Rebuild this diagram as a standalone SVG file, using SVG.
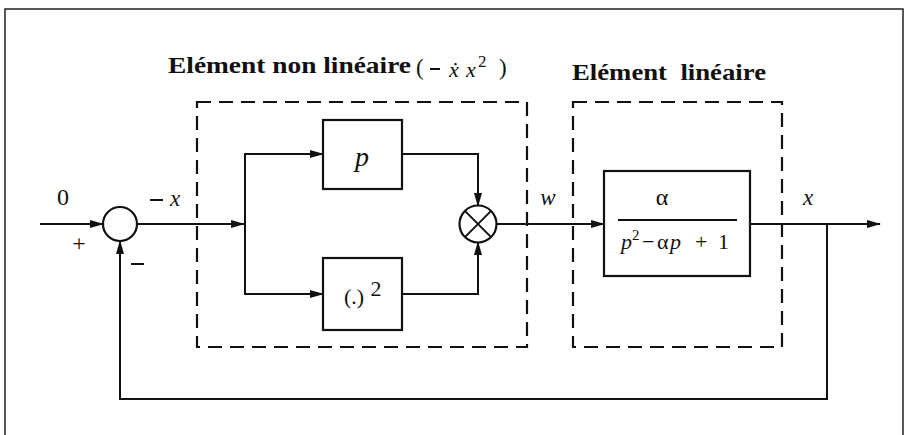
<svg xmlns="http://www.w3.org/2000/svg" width="905" height="435" viewBox="0 0 905 435">
<defs>
<marker id="ah" markerWidth="14" markerHeight="9" refX="13" refY="4.5" orient="auto" markerUnits="userSpaceOnUse">
<path d="M0,0.5 L14,4.5 L0,8.5 Z" fill="#111"/>
</marker>
</defs>
<style>
.ln{fill:none;stroke:#111;stroke-width:2}
.box{fill:#fff;stroke:#111;stroke-width:2.2}
.dash{fill:none;stroke:#111;stroke-width:2.2;stroke-dasharray:14 8}
.t{font-family:"Liberation Serif","Times New Roman",serif;fill:#111}
.ti{font-family:"Liberation Serif","Times New Roman",serif;font-style:italic;fill:#111}
.b{font-family:"Liberation Serif","Times New Roman",serif;font-weight:bold;fill:#111}
</style>
<rect width="905" height="435" fill="#fff"/>
<path d="M5,435 V9 H903 V435" fill="none" stroke="#222" stroke-width="1.5"/>

<g id="group-nonlinear">
<rect x="197" y="102" width="330" height="245" class="dash"/>
<text class="b" x="168" y="73" font-size="23" textLength="243" lengthAdjust="spacingAndGlyphs">Elément non linéaire</text>
<text class="t" x="416" y="75" font-size="23">(</text>
<line x1="430" y1="69" x2="440" y2="69" stroke="#111" stroke-width="2"/>
<text class="ti" x="449" y="77" font-size="22">ẋ</text>
<text class="ti" x="466" y="77" font-size="22">x</text>
<text class="t" x="478" y="67" font-size="17">2</text>
<text class="t" x="499" y="75" font-size="23">)</text>
</g>
<g id="group-linear">
<rect x="573" y="102" width="209" height="245" class="dash"/>
<text class="b" x="572" y="80" font-size="24" textLength="194" lengthAdjust="spacingAndGlyphs" xml:space="preserve">Elément  linéaire</text>
</g>

<g id="connectors">
<line x1="40" y1="224" x2="103" y2="224" class="ln" marker-end="url(#ah)"/>
<line x1="137" y1="224" x2="244" y2="224" class="ln" marker-end="url(#ah)"/>
<polyline points="245,294 245,154 323,154" class="ln" marker-end="url(#ah)"/>
<polyline points="245,224 245,294 323,294" class="ln" marker-end="url(#ah)"/>
<polyline points="402,154 478,154 478,206" class="ln" marker-end="url(#ah)"/>
<polyline points="402,294 478,294 478,242" class="ln" marker-end="url(#ah)"/>
<line x1="497" y1="224" x2="604" y2="224" class="ln" marker-end="url(#ah)"/>
<line x1="750" y1="224" x2="880" y2="224" class="ln" marker-end="url(#ah)"/>
<polyline points="827,224 827,399 120,399 120,241" class="ln" marker-end="url(#ah)"/>
</g>

<g id="sum">
<circle cx="120" cy="224" r="17" class="box"/>
<text class="t" x="63" y="205" font-size="24" text-anchor="middle">0</text>
<text class="t" x="79" y="251" font-size="24" text-anchor="middle">+</text>
<line x1="131" y1="264" x2="144" y2="264" stroke="#111" stroke-width="2"/>
<line x1="150" y1="200" x2="163" y2="200" stroke="#111" stroke-width="2"/>
<text class="ti" x="175" y="206" font-size="23" text-anchor="middle">x</text>
</g>

<g id="block-p">
<rect x="323" y="120" width="79" height="69" class="box"/>
<text class="ti" x="362" y="166" font-size="28" text-anchor="middle">p</text>
</g>

<g id="block-square">
<rect x="323" y="258" width="79" height="72" class="box"/>
<text class="t" x="354" y="304" font-size="22" text-anchor="middle">(.)</text>
<text class="t" x="376" y="296" font-size="22" text-anchor="middle">2</text>
</g>

<g id="multiplier">
<circle cx="478" cy="224" r="18.5" class="box"/>
<line x1="464.9" y1="210.9" x2="491.1" y2="237.1" class="ln"/>
<line x1="491.1" y1="210.9" x2="464.9" y2="237.1" class="ln"/>
</g>

<g id="block-linear">
<rect x="604" y="171" width="146" height="105" class="box"/>
<text class="t" x="662" y="205" font-size="24" text-anchor="middle">α</text>
<line x1="618" y1="220" x2="737" y2="220" class="ln"/>
<text class="ti" x="621" y="249" font-size="22">p</text>
<text class="t" x="632" y="240" font-size="15">2</text>
<text class="t" x="642" y="249" font-size="22">−</text>
<text class="t" x="657" y="249" font-size="22">α</text>
<text class="ti" x="670" y="249" font-size="22">p</text>
<text class="t" x="695" y="249" font-size="22">+</text>
<text class="t" x="718" y="249" font-size="22">1</text>
</g>

<g id="labels">
<text class="ti" x="548" y="205" font-size="23" text-anchor="middle">w</text>
<text class="ti" x="808" y="205" font-size="23" text-anchor="middle">x</text>
</g>
</svg>
